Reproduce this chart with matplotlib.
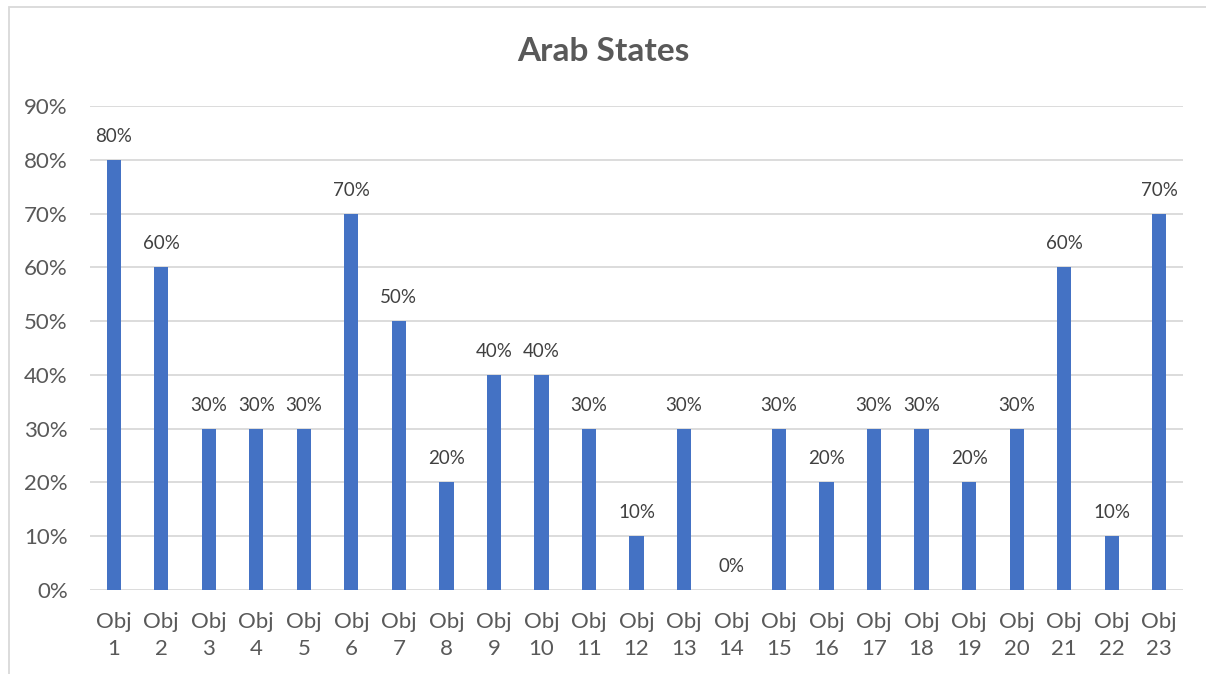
import matplotlib.pyplot as plt
from matplotlib.patches import Rectangle

plt.rcParams['font.family'] = ['Lato', 'DejaVu Sans']

labels = [f"Obj\n{i}" for i in range(1, 24)]
values = [80, 60, 30, 30, 30, 70, 50, 20, 40, 40, 30, 10, 30, 0,
          30, 20, 30, 30, 20, 30, 60, 10, 70]
yticks = list(range(0, 100, 10))

BAR = '#4472C4'
TEXT = '#595959'
GRID = '#D9D9D9'

fig = plt.figure(figsize=(12.06, 6.74), dpi=100)
ax = fig.add_axes([0.0746, 0.1246, 0.9063, 0.7181])

x = list(range(len(values)))
ax.bar(x, values, width=0.3, color=BAR, zorder=3)
for xi, v in zip(x, values):
    ax.text(xi, v + 2.8, f"{v}%", ha='center', va='bottom',
            fontsize=13.5, color='#404040')

ax.set_xlim(-0.5, len(values) - 0.5)
ax.set_ylim(0, 90)
ax.set_yticks(yticks)
ax.set_yticklabels([f"{t}%" for t in yticks])
ax.set_xticks(x)
ax.set_xticklabels(labels, linespacing=1.45)
ax.tick_params(axis='both', length=0, colors=TEXT, labelsize=16)
ax.tick_params(axis='y', pad=16)
ax.tick_params(axis='x', pad=16)
ax.grid(axis='y', color=GRID, linewidth=1.3, zorder=0)
for s in ax.spines.values():
    s.set_visible(False)

fig.text(0.5, 0.923, "Arab States", ha='center', va='center',
         fontsize=24, fontweight='bold', color=TEXT)

# outer chart frame
fig.patches.append(Rectangle((9 / 1206, -0.05), 1.1, (674 - 7) / 674 + 0.05,
                             transform=fig.transFigure, fill=False,
                             edgecolor='#D9D9D9', linewidth=1.3))

fig.savefig('out.png', dpi=100)
